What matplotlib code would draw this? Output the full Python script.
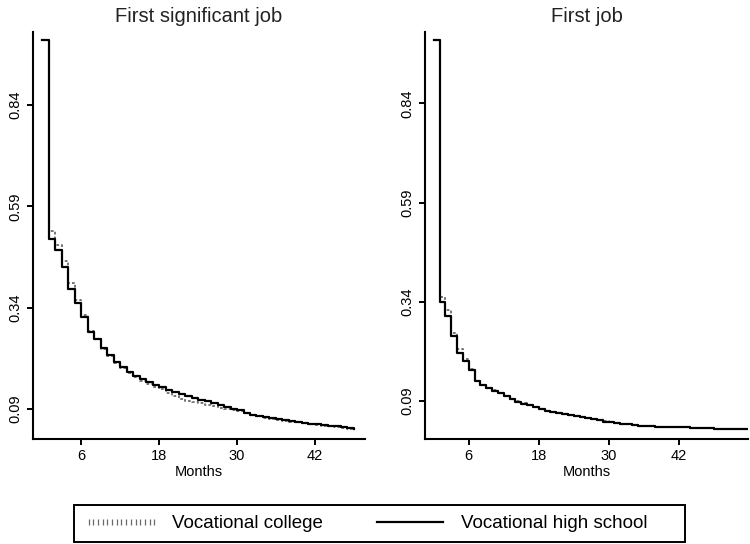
import matplotlib
matplotlib.use("Agg")
import matplotlib.pyplot as plt
from matplotlib.lines import Line2D
from matplotlib.patches import Rectangle

plt.rcParams['font.family'] = ['Liberation Sans', 'DejaVu Sans']

# survival estimates, one value per month (step after)
months_sig = list(range(0, 49))
college_sig = [1.0, 0.53, 0.495, 0.455, 0.40, 0.36, 0.322, 0.283, 0.262, 0.238,
               0.22, 0.203, 0.19, 0.178, 0.168, 0.159, 0.151, 0.145, 0.140, 0.130,
               0.121, 0.115, 0.110, 0.107, 0.104, 0.101, 0.097, 0.093, 0.090, 0.087,
               0.084, 0.079, 0.075, 0.072, 0.069, 0.066, 0.063, 0.061, 0.059, 0.057,
               0.055, 0.053, 0.051, 0.049, 0.047, 0.045, 0.043, 0.040, 0.038]
highschool_sig = [1.0, 0.51, 0.482, 0.44, 0.386, 0.351, 0.317, 0.28, 0.262, 0.24,
                  0.223, 0.206, 0.193, 0.181, 0.171, 0.163, 0.156, 0.150, 0.145, 0.138,
                  0.131, 0.126, 0.122, 0.118, 0.113, 0.109, 0.104, 0.099, 0.095, 0.091,
                  0.087, 0.080, 0.076, 0.073, 0.070, 0.068, 0.066, 0.063, 0.061, 0.058,
                  0.056, 0.054, 0.053, 0.051, 0.049, 0.047, 0.045, 0.043, 0.041]

months_first = list(range(0, 55))
college_first = [1.0, 0.352, 0.318, 0.262, 0.22, 0.195, 0.171, 0.141, 0.131, 0.123,
                 0.117, 0.110, 0.103, 0.096, 0.089, 0.084, 0.080, 0.075, 0.070, 0.065,
                 0.062, 0.059, 0.057, 0.055, 0.052, 0.049, 0.047, 0.044, 0.041, 0.039,
                 0.036, 0.034, 0.032, 0.031, 0.030, 0.028, 0.027, 0.026, 0.025, 0.025,
                 0.024, 0.024, 0.023, 0.023, 0.022, 0.022, 0.021, 0.021, 0.020, 0.020,
                 0.020, 0.019, 0.019, 0.019, 0.019]
highschool_first = [1.0, 0.34, 0.304, 0.254, 0.212, 0.19, 0.168, 0.139, 0.130, 0.122,
                    0.116, 0.110, 0.102, 0.095, 0.088, 0.083, 0.079, 0.075, 0.070, 0.064,
                    0.061, 0.059, 0.057, 0.055, 0.052, 0.049, 0.046, 0.044, 0.041, 0.038,
                    0.036, 0.034, 0.032, 0.031, 0.030, 0.028, 0.027, 0.026, 0.025, 0.025,
                    0.024, 0.024, 0.023, 0.023, 0.022, 0.022, 0.021, 0.021, 0.020, 0.020,
                    0.020, 0.019, 0.019, 0.019, 0.019]

yticks = [0.09, 0.34, 0.59, 0.84]
xticks = [6, 18, 30, 42]
titles = ["First significant job", "First job"]
labels = ["Vocational college", "Vocational high school"]

fig = plt.figure(figsize=(7.5, 5.44), dpi=100)
ax1 = fig.add_axes([33/750, 1-439/544, 332/750, 407/544])
ax2 = fig.add_axes([425/750, 1-439/544, 323/750, 407/544])

panels = [(ax1, months_sig, college_sig, highschool_sig, (-1.4, 49.7), (0.016, 1.02)),
          (ax2, months_first, college_first, highschool_first, (-1.5, 53.9), (-0.006, 1.02))]

for i, (ax, t, col, hs, xl, yl) in enumerate(panels):
    ax.step(t, col, where='post', color='#6a6a6a', lw=1.3, ls=(0, (1.5, 1.2)))
    ax.step(t, hs, where='post', color='black', lw=1.6)
    ax.set_xlim(*xl)
    ax.set_ylim(*yl)
    ax.set_xticks(xticks)
    ax.set_yticks(yticks)
    ax.set_yticklabels([f"{v:.2f}" for v in yticks], rotation=90, va='center')
    ax.tick_params(direction='out', length=4.5, width=1.4, labelsize=10.5, pad=3)
    for s in ['top', 'right']:
        ax.spines[s].set_visible(False)
    for s in ['left', 'bottom']:
        ax.spines[s].set_linewidth(1.5)
    ax.set_xlabel("Months", fontsize=10.5, labelpad=1)
    ax.set_title(titles[i], fontsize=14.5, pad=7, color='#222222')

# legend box drawn by hand, Stata style (extra room on the right)
fig.add_artist(Rectangle((74/750, 1-542/544), 611/750, 37/544, transform=fig.transFigure,
                         fill=False, edgecolor='black', lw=1.4))
handles = [Line2D([], [], color='#6a6a6a', marker='|', ls='none', markersize=5, mew=0.9),
           Line2D([], [], color='black', lw=1.6)]
leg = fig.legend(handles, labels, loc='center left', bbox_to_anchor=(83/750, 1-523.5/544),
                 ncol=2, fontsize=13.5, numpoints=15, handlelength=4.1,
                 handletextpad=0.65, columnspacing=2.6, frameon=False, borderpad=0,
                 borderaxespad=0)

fig.savefig("out.png", dpi=100)
